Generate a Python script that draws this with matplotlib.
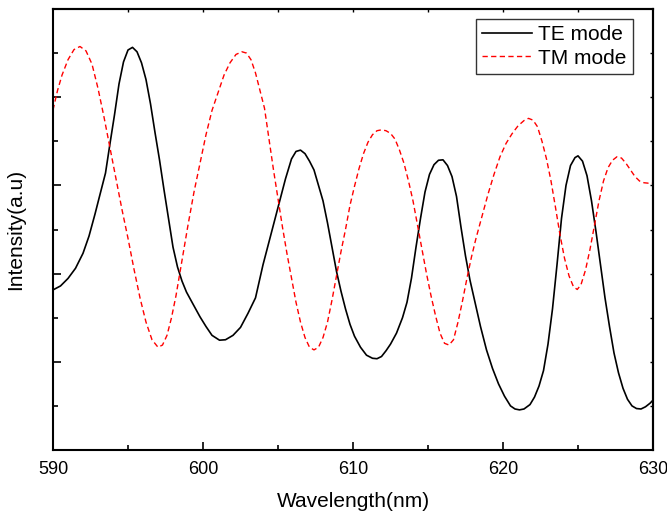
import matplotlib
matplotlib.use("Agg")
import matplotlib.pyplot as plt
from matplotlib.ticker import MultipleLocator, NullFormatter

plt.rcParams['font.family'] = ['Liberation Sans', 'DejaVu Sans']

te_x = [590.0, 590.5, 591.0, 591.5, 592.0, 592.4, 592.8, 593.1, 593.5, 593.8,
        594.1, 594.4, 594.7, 595.0, 595.3, 595.6, 595.9, 596.2, 596.5, 596.8,
        597.1, 597.4, 597.7, 598.0, 598.3, 598.6, 598.9, 599.3, 599.8, 600.2,
        600.6, 601.1, 601.5, 602.0, 602.5, 603.0, 603.5, 604.0, 604.5, 605.0,
        605.5, 605.9, 606.2, 606.5, 606.8, 607.1, 607.4, 607.7, 608.0, 608.3,
        608.6, 608.9, 609.2, 609.5, 609.8, 610.1, 610.5, 610.9, 611.3, 611.6,
        611.9, 612.2, 612.5, 612.9, 613.3, 613.6, 613.9, 614.2, 614.5, 614.8,
        615.1, 615.4, 615.7, 616.0, 616.3, 616.6, 616.9, 617.2, 617.5, 617.8,
        618.1, 618.5, 618.9, 619.3, 619.7, 620.1, 620.5, 620.8, 621.1, 621.4,
        621.8, 622.1, 622.4, 622.7, 623.0, 623.3, 623.6, 623.9, 624.2, 624.5,
        624.8, 625.0, 625.3, 625.6, 625.9, 626.2, 626.5, 626.8, 627.1, 627.4,
        627.7, 628.0, 628.3, 628.6, 628.9, 629.2, 629.5, 629.8, 630.0]
te_y = [3.63, 3.72, 3.89, 4.12, 4.46, 4.85, 5.35, 5.75, 6.28, 6.95,
        7.6, 8.3, 8.8, 9.07, 9.13, 9.03, 8.78, 8.4, 7.85, 7.2,
        6.58, 5.9, 5.25, 4.6, 4.15, 3.83, 3.58, 3.33, 3.02, 2.8,
        2.6, 2.49, 2.5, 2.6, 2.78, 3.1, 3.45, 4.2, 4.85, 5.5,
        6.15, 6.6, 6.77, 6.8, 6.72, 6.55, 6.35, 6.0, 5.65, 5.15,
        4.6, 4.05, 3.6, 3.2, 2.85, 2.58, 2.33, 2.15, 2.08, 2.07,
        2.12, 2.25, 2.4, 2.65, 3.0, 3.35, 3.9, 4.6, 5.25, 5.85,
        6.25, 6.47, 6.57, 6.58, 6.45, 6.2, 5.75, 5.05, 4.4, 3.85,
        3.4, 2.8, 2.27, 1.85, 1.5, 1.22, 1.0, 0.93, 0.91, 0.93,
        1.03, 1.2, 1.45, 1.8, 2.4, 3.2, 4.2, 5.25, 6.0, 6.45,
        6.63, 6.67, 6.55, 6.22, 5.65, 4.95, 4.2, 3.45, 2.8, 2.2,
        1.75, 1.4, 1.15, 1.0, 0.94, 0.93, 0.98, 1.06, 1.13]

tm_x = [590.0, 590.3, 590.6, 591.0, 591.4, 591.8, 592.2, 592.6, 593.0, 593.4,
        593.8, 594.2, 594.6, 595.0, 595.4, 595.8, 596.2, 596.6, 597.0, 597.3,
        597.6, 597.9, 598.2, 598.6, 599.0, 599.4, 599.8, 600.2, 600.6, 601.0,
        601.4, 601.8, 602.2, 602.6, 602.9, 603.2, 603.5, 603.8, 604.1, 604.4,
        604.7, 605.0, 605.3, 605.6, 605.9, 606.2, 606.5, 606.8, 607.1, 607.4,
        607.7, 608.0, 608.3, 608.6, 608.9, 609.2, 609.5, 609.8, 610.1, 610.4,
        610.7, 611.0, 611.3, 611.6, 611.9, 612.2, 612.5, 612.8, 613.1, 613.4,
        613.7, 614.0, 614.3, 614.6, 614.9, 615.2, 615.5, 615.8, 616.1, 616.4,
        616.7, 617.0, 617.3, 617.6, 617.9, 618.2, 618.6, 619.0, 619.4, 619.8,
        620.2, 620.6, 621.0, 621.4, 621.7, 622.0, 622.3, 622.6, 622.9, 623.2,
        623.5, 623.8, 624.1, 624.4, 624.7, 624.95, 625.2, 625.5, 625.8, 626.1,
        626.4, 626.7, 627.0, 627.3, 627.6, 627.9, 628.2, 628.5, 628.8, 629.1,
        629.4, 629.7, 630.0]
tm_y = [7.71, 8.15, 8.5, 8.85, 9.08, 9.15, 9.05, 8.75, 8.2, 7.55,
        6.85, 6.15, 5.45, 4.8, 4.1, 3.45, 2.9, 2.5, 2.33, 2.38,
        2.6, 3.0, 3.5, 4.3, 5.1, 5.85, 6.5, 7.15, 7.7, 8.1,
        8.5, 8.78, 8.97, 9.03, 9.0, 8.85, 8.55, 8.15, 7.75, 7.05,
        6.35, 5.7, 5.05, 4.45, 3.9, 3.35, 2.9, 2.55, 2.33, 2.27,
        2.33, 2.55, 2.9, 3.4, 3.95, 4.5, 5.0, 5.55, 5.98, 6.38,
        6.72, 6.98, 7.15, 7.24, 7.26, 7.24, 7.18, 7.05, 6.8, 6.5,
        6.1, 5.65, 5.1, 4.55, 4.0, 3.5, 3.05, 2.65, 2.42, 2.38,
        2.5, 2.9, 3.38, 3.9, 4.38, 4.8, 5.3, 5.8, 6.25, 6.65,
        6.95, 7.17, 7.35, 7.47, 7.52, 7.48, 7.33, 7.0, 6.6, 6.1,
        5.5, 4.88, 4.35, 3.95, 3.7, 3.64, 3.75, 4.08, 4.55, 5.1,
        5.65, 6.1, 6.4, 6.57, 6.65, 6.62, 6.5, 6.35, 6.2, 6.1,
        6.06, 6.05, 6.05]

x_ticks = [590, 600, 610, 620, 630]

fig = plt.figure(figsize=(6.67, 5.13), dpi=100)
ax = fig.add_axes([53/667, 63/513, 600/667, 441/513])

ax.plot(te_x, te_y, color='black', lw=1.2, label='TE mode')
ax.plot(tm_x, tm_y, color='red', lw=1.0, dashes=(3.8, 2.4), label='TM mode')

ax.set_xlim(590, 630)
ax.set_ylim(0, 10)
ax.set_xticks(x_ticks)
ax.xaxis.set_minor_locator(MultipleLocator(5))
ax.yaxis.set_major_locator(MultipleLocator(2))
ax.yaxis.set_minor_locator(MultipleLocator(1))
ax.yaxis.set_major_formatter(NullFormatter())
ax.tick_params(axis='both', which='major', direction='in', length=6, width=1.2,
               labelsize=13, pad=8)
ax.tick_params(axis='both', which='minor', direction='in', length=3.5, width=1.2)

for s in ax.spines.values():
    s.set_linewidth(1.5)

secx = ax.secondary_xaxis('top')
secx.set_xticks([595, 600, 605, 610, 615, 620, 625])
secx.tick_params(direction='in', length=2.5, width=1.0, labeltop=False)
secx.spines['top'].set_linewidth(1.5)
secy = ax.secondary_yaxis('right')
secy.set_yticks(list(range(1, 10)))
secy.tick_params(direction='in', length=2.5, width=1.0, labelright=False)
secy.spines['right'].set_linewidth(1.5)

ax.set_xlabel('Wavelength(nm)', fontsize=15, labelpad=10)
ax.set_ylabel('Intensity(a.u)', fontsize=15, labelpad=12)

leg = ax.legend(loc='upper right', bbox_to_anchor=(0.9667, 0.977), borderaxespad=0,
                fontsize=15, frameon=True, fancybox=False, edgecolor='black',
                handlelength=2.4, handletextpad=0.3, borderpad=0.3, labelspacing=0.2)
leg.get_frame().set_linewidth(1.0)

fig.savefig('out.png', dpi=100)
